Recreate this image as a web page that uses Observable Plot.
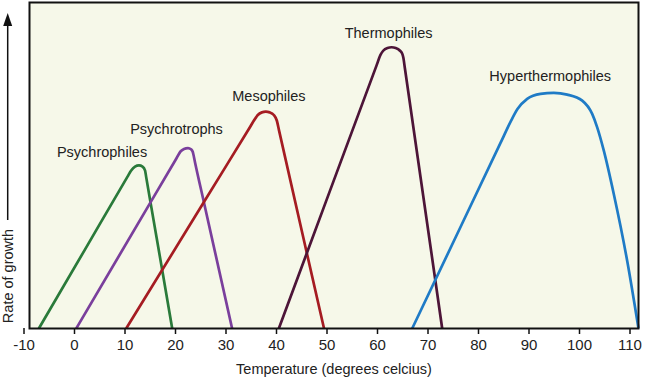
<!DOCTYPE html>
<html><head><meta charset="utf-8">
<script src="https://cdn.jsdelivr.net/npm/d3@7"></script>
<script src="https://cdn.jsdelivr.net/npm/@observablehq/plot@0.6"></script>
<style>html,body{margin:0;padding:0;background:#fff;} svg{display:block}</style>
</head><body><div id="chart"></div>
<script>
// ---- data ----
const organisms = ["Psychrophiles", "Psychrotrophs", "Mesophiles", "Thermophiles", "Hyperthermophiles"];

const psychrophileTemps = [-7.93, 1.98, 10.5, 11.19, 11.98, 12.77, 13.47, 13.98, 14.18, 15.05, 17.29, 19.35];
const psychrophileRates = [0, 23.98, 46.58, 48.39, 49.65, 50.02, 49.65, 48.42, 46.58, 38.69, 18.64, 0];

const psychrotrophTemps = [0.34, 15.05, 20.0, 21.03, 21.68, 22.48, 23.07, 23.39, 23.49, 23.88, 25.6, 31.21];
const psychrotrophRates = [0, 38.69, 51.7, 54.38, 55.08, 55.36, 54.99, 54.31, 53.76, 50.87, 38.9, 0];

const mesophileTemps = [10.24, 25.6, 34.46, 35.98, 36.3, 37.11, 37.88, 38.65, 39.47, 40.06, 40.51, 45.9, 49.41];
const mesophileRates = [0, 38.72, 61.02, 64.85, 65.49, 66.29, 66.5, 66.29, 65.49, 63.8, 60.7, 23.86, 0];

const thermophileTemps = [40.46, 45.94, 59.8, 60.59, 61.13, 61.98, 62.79, 63.6, 64.46, 64.93, 65.11, 65.43, 71.35, 72.81];
const thermophileRates = [0, 22.86, 80.63, 83.91, 85.2, 86.05, 86.27, 86.05, 85.2, 84.16, 83.14, 79.74, 15.87, 0];

const hyperthermophileTemps = [66.87, 76.44, 84.36, 86.34, 87.72, 89.64, 92.28, 94.91, 97.56, 100.46, 102.15, 103.0, 104.12, 105.81, 108.08, 110];
const hyperthermophileRates = [0, 31.13, 56.92, 63.37, 67.3, 70.43, 71.97, 72.27, 71.75, 69.91, 65.83, 61.71, 54.56, 41.27, 20.79, 0];

// label anchor points (temperature, rate)
const labelTemps = [5.45, 20.2, 38.5, 62.2, 94.2];
const labelRates = [54.0, 61.2, 71.2, 90.4, 77.4];

const tickValues = [-10, 0, 10, 20, 30, 40, 50, 60, 70, 80, 90, 100, 110];
const xTitle = "Temperature (degrees celcius)";
const yTitle = "Rate of growth";

// ---- build tables ----
const seriesTemps = [psychrophileTemps, psychrotrophTemps, mesophileTemps, thermophileTemps, hyperthermophileTemps];
const seriesRates = [psychrophileRates, psychrotrophRates, mesophileRates, thermophileRates, hyperthermophileRates];
const points = organisms.flatMap((name, i) =>
  seriesTemps[i].map((t, j) => ({organism: name, temp: t, rate: seriesRates[i][j]})));
const labels = organisms.map((name, i) => ({organism: name, temp: labelTemps[i], rate: labelRates[i]}));

const colors = ["#2a7a3a", "#7a3f9c", "#a51c22", "#4d1538", "#1f7bc6"];
const font = "'Liberation Sans', Arial, Helvetica, sans-serif";

// the reference axis is drawn with narrower/wider end intervals (-10..0 and 100..110)
const endLo = 45 / 50.5, endHi = 59 / 50.5;
const warp = t => t < 0 ? t * endLo : t > 100 ? 100 + (t - 100) * endHi : t;

const W = 650, H = 378, mL = 29, mR = 12, mT = 2, mB = 50;

function yAxisDecoration(index, scales, values, dim) {
  const g = d3.create("svg:g");
  const ax = 7.7;
  const bottom = dim.height - dim.marginBottom;
  g.append("line")
    .attr("x1", ax).attr("x2", ax)
    .attr("y1", bottom - 108).attr("y2", dim.marginTop + 20)
    .attr("stroke", "#111").attr("stroke-width", 1.5);
  g.append("path")
    .attr("d", `M${ax},${dim.marginTop + 11}L${ax - 4.5},${dim.marginTop + 24}L${ax + 4.5},${dim.marginTop + 24}Z`)
    .attr("fill", "#111");
  g.append("text")
    .attr("transform", `translate(${ax + 5.5},${bottom - 52}) rotate(-90)`)
    .attr("text-anchor", "middle")
    .attr("font-size", 14.5)
    .attr("fill", "#222")
    .text(yTitle);
  return g.node();
}

const chart = Plot.plot({
  width: W,
  height: H,
  marginLeft: mL,
  marginRight: mR,
  marginTop: mT,
  marginBottom: mB,
  style: {fontFamily: font, fontSize: "14.5px", background: "#fff", color: "#222"},
  x: {type: "linear", domain: [warp(-10), warp(110)], transform: warp, axis: null},
  y: {domain: [0, 100], axis: null},
  color: {domain: organisms, range: colors},
  marks: [
    Plot.frame({fill: "#f6f8e9", stroke: null}),
    Plot.line(points, {x: "temp", y: "rate", z: "organism", stroke: "organism",
      strokeWidth: 2.7, curve: "monotone-x", strokeLinejoin: "round", strokeLinecap: "butt"}),
    Plot.frame({stroke: "#111", strokeWidth: 2}),
    Plot.axisX({ticks: tickValues, tickSize: 6, tickPadding: 5, tickFormat: d => String(d),
      stroke: "#111", strokeWidth: 1.5, fontSize: 15, fill: "#222", label: null}),
    Plot.text(labels, {x: "temp", y: "rate", text: "organism", fontSize: 14.5, fill: "#222",
      textAnchor: "middle", lineAnchor: "middle"}),
    Plot.text([xTitle], {frameAnchor: "bottom", dy: 41, fontSize: 14.5, fill: "#222", lineAnchor: "middle"}),
    yAxisDecoration
  ]
});
document.getElementById("chart").appendChild(chart);
</script>
</body></html>
